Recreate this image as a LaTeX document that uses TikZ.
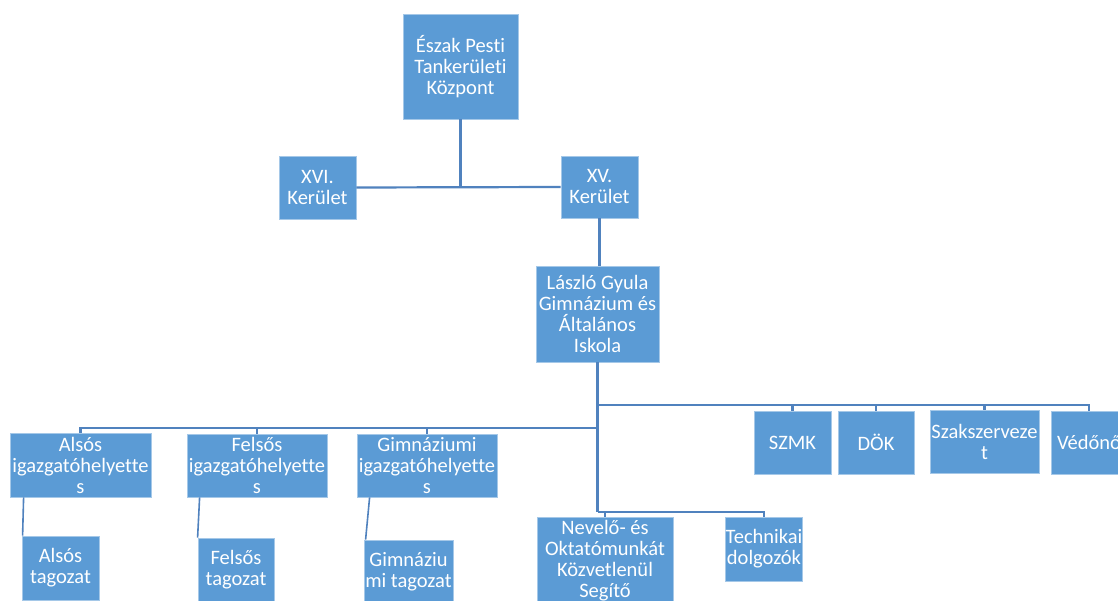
\documentclass[tikz,border=0pt]{standalone}
\usepackage{fontspec}
\setmainfont{Carlito}[Ligatures={NoCommon}]
\usetikzlibrary{calc}
\definecolor{boxblue}{RGB}{91,155,213}
\definecolor{lineblue}{RGB}{80,130,190}
\begin{document}
\begin{tikzpicture}[x=1pt,y=-1pt,
  ob/.style={rectangle, fill=boxblue, draw=boxblue!55!white, line width=0.8pt,
    text=white, align=center, inner sep=0pt, font=\fontsize{20.5}{21}\selectfont},
  conn/.style={draw=lineblue, line width=2.2pt},
  hang/.style={draw=lineblue, line width=1.6pt}]
\clip (0,0) rectangle (1118,601);
\fill[white] (0,0) rectangle (1118,601);
% nodes
\node[ob, minimum width=115pt, minimum height=105pt] (top) at (460.5,66.5) {Észak Pesti\\Tankerületi\\Központ};
\node[ob, minimum width=77pt, minimum height=63pt] (xvi) at (317.5,187.5) {XVI.\\Kerület};
\node[ob, minimum width=77pt, minimum height=62pt] (xv) at (599.5,187) {XV.\\Kerület};
\node[ob, minimum width=123pt, minimum height=96pt] (lgy) at (597.5,314) {László Gyula\\Gimnázium és\\Általános\\Iskola};
\node[ob, minimum width=141pt, minimum height=64pt] (aigh) at (80.5,465) {Alsós\\igazgatóhelyette\\s};
\node[ob, minimum width=140pt, minimum height=63pt] (figh) at (257,465.5) {Felsős\\igazgatóhelyette\\s};
\node[ob, minimum width=140pt, minimum height=63pt] (gigh) at (427,465.5) {Gimnáziumi\\igazgatóhelyette\\s};
\node[ob, minimum width=77pt, minimum height=64pt] (atag) at (60.5,568) {Alsós\\tagozat};
\node[ob, minimum width=76pt, minimum height=64pt] (ftag) at (236,570) {Felsős\\tagozat};
\node[ob, minimum width=89pt, minimum height=64pt] (gtag) at (408.5,572) {Gimnáziu\\mi tagozat};
\node[ob, minimum width=136pt, minimum height=88pt] (nev) at (605,561) {Nevelő- és\\Oktatómunkát\\Közvetlenül\\Segítő};
\node[ob, minimum width=76pt, minimum height=64pt] (tech) at (764,549) {Technikai\\dolgozók};
\node[ob, minimum width=77pt, minimum height=63pt] (szmk) at (792.5,442.5) {SZMK};
\node[ob, minimum width=76pt, minimum height=63pt] (dok) at (876,442.5) {DÖK};
\node[ob, minimum width=109pt, minimum height=63pt] (szak) at (984.5,441.5) {Szakszerveze\\t};
\node[ob, minimum width=76pt, minimum height=63pt] (ved) at (1089,442.5) {Védőnő};
% bus points
\coordinate (busR) at (597.5,405);
\coordinate (busL) at (597.5,428);
\coordinate (busN) at (597.5,512);
% connectors
\draw[conn] (top.south) -- (top.south |- xv.west);
\draw[conn] (xvi.east) -- (xv.west);
\draw[conn] (xv.south) -- (xv.south |- lgy.north);
\draw[conn] (lgy.south) -- (busN);
\draw[conn] (busR) -| (ved.north);
\draw[conn] (szmk.north) -- (szmk.north |- busR);
\draw[conn] (dok.north) -- (dok.north |- busR);
\draw[conn] (szak.north) -- (szak.north |- busR);
\draw[conn] (busL) -| (aigh.north);
\draw[conn] (figh.north) -- (figh.north |- busL);
\draw[conn] (gigh.north) -- (gigh.north |- busL);
\draw[conn] (busN) -| (tech.north);
\draw[conn] (nev.north) -- (nev.north |- busN);
\draw[hang] ($(aigh.south west)+(14,0)$) -- ($(atag.north west)+(1,0)$);
\draw[hang] ($(figh.south west)+(13,0)$) -- ($(ftag.north west)+(0,0)$);
\draw[hang] ($(gigh.south west)+(13,0)$) -- ($(gtag.north west)+(2,0)$);
\end{tikzpicture}
\end{document}
